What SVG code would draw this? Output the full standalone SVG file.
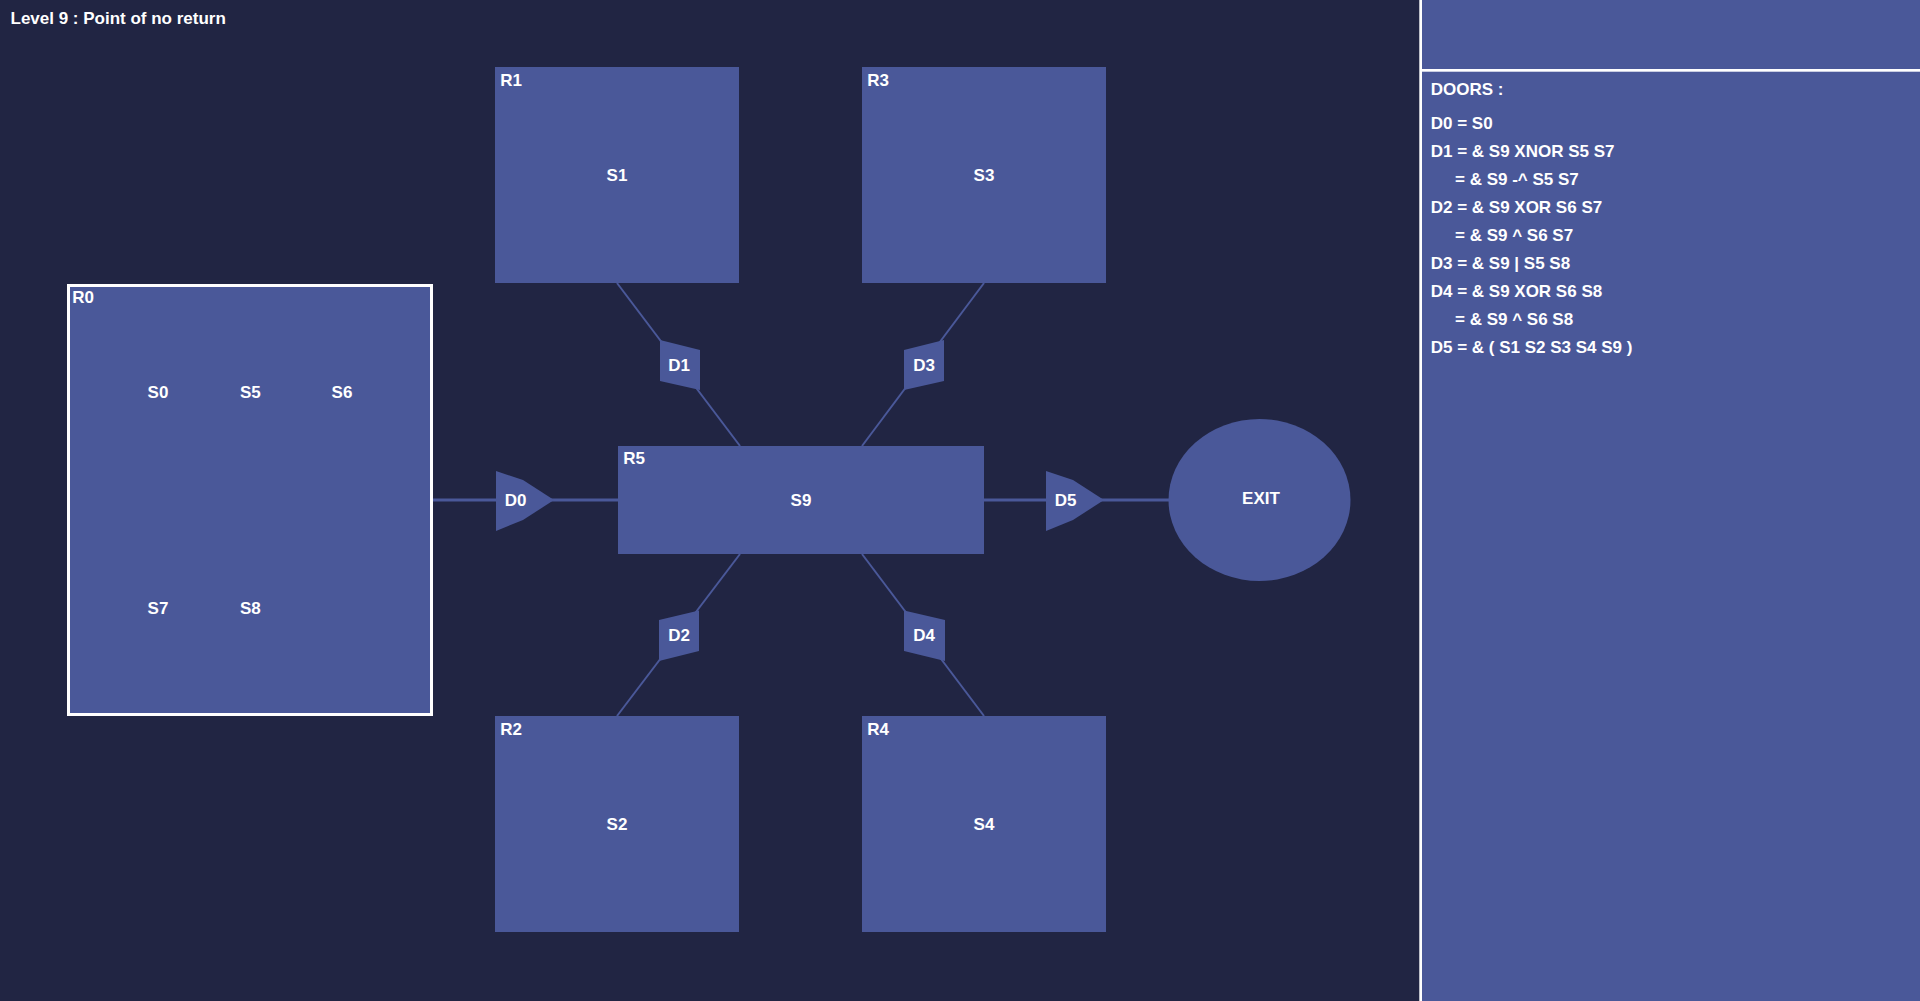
<svg xmlns="http://www.w3.org/2000/svg" width="1920" height="1001" viewBox="0 0 1920 1001">
<style>
.room{fill:#4a5899}
.door{fill:#4a5899}
.t{font-family:"Liberation Sans",Arial,sans-serif;font-weight:bold;font-size:17px;fill:#ffffff}
.c{text-anchor:middle}
.ln{stroke:#4a5899;fill:none}
</style>
<rect x="0" y="0" width="1920" height="1001" fill="#212543"/>
<text class="t" x="10.5" y="24.3">Level 9 : Point of no return</text>

<g id="connectors">
<line class="ln" x1="433" y1="500" x2="618" y2="500" stroke-width="3"/>
<line class="ln" x1="984" y1="500" x2="1169" y2="500" stroke-width="3"/>
<line class="ln" x1="617" y1="283" x2="740" y2="446" stroke-width="2"/>
<line class="ln" x1="984" y1="283" x2="862" y2="446" stroke-width="2"/>
<line class="ln" x1="740" y1="554" x2="617" y2="716" stroke-width="2"/>
<line class="ln" x1="862" y1="554" x2="984" y2="716" stroke-width="2"/>
</g>

<g id="R0">
<rect x="68.5" y="285.5" width="363" height="429" class="room" stroke="#ffffff" stroke-width="3"/>
<text class="t" x="72.3" y="303.3">R0</text>
<text class="t c" x="158" y="398.3">S0</text>
<text class="t c" x="250.3" y="398.3">S5</text>
<text class="t c" x="342" y="398.3">S6</text>
<text class="t c" x="158" y="614.3">S7</text>
<text class="t c" x="250.3" y="614.3">S8</text>
</g>
<g id="R1">
<rect x="495" y="67" width="244" height="216" class="room"/>
<text class="t" x="500.3" y="86">R1</text>
<text class="t c" x="617" y="181">S1</text>
</g>
<g id="R3">
<rect x="862" y="67" width="244" height="216" class="room"/>
<text class="t" x="867.3" y="86">R3</text>
<text class="t c" x="984" y="181">S3</text>
</g>
<g id="R2">
<rect x="495" y="716" width="244" height="216" class="room"/>
<text class="t" x="500.3" y="735">R2</text>
<text class="t c" x="617" y="830">S2</text>
</g>
<g id="R4">
<rect x="862" y="716" width="244" height="216" class="room"/>
<text class="t" x="867.3" y="735">R4</text>
<text class="t c" x="984" y="830">S4</text>
</g>
<g id="R5">
<rect x="618" y="446" width="366" height="108" class="room"/>
<text class="t" x="623.3" y="464.3">R5</text>
<text class="t c" x="801" y="506">S9</text>
</g>
<g id="EXIT">
<ellipse cx="1259.5" cy="500" rx="91" ry="81" class="room"/>
<text class="t c" x="1261" y="504.3">EXIT</text>
</g>

<g id="D0">
<polygon class="door" points="496,471 523,480 554,500 523,520 496,531"/>
<text class="t c" x="515.7" y="506">D0</text>
</g>
<g id="D5">
<polygon class="door" points="1046,471 1073,480 1104,500 1073,520 1046,531"/>
<text class="t c" x="1065.7" y="506">D5</text>
</g>
<g id="D1">
<polygon class="door" points="660,340 700,350 700,390 660,381"/>
<text class="t c" x="679" y="371.3">D1</text>
</g>
<g id="D3">
<polygon class="door" points="904,350 944,340 944,381 904,390"/>
<text class="t c" x="924" y="371.3">D3</text>
</g>
<g id="D2">
<polygon class="door" points="659,620 699,610.5 699,651 659,661"/>
<text class="t c" x="679" y="641">D2</text>
</g>
<g id="D4">
<polygon class="door" points="904,610.5 945,620 945,661 904,651"/>
<text class="t c" x="924" y="641">D4</text>
</g>

<g id="panel">
<rect x="1421" y="0" width="499" height="1001" fill="#4a5899"/>
<rect x="1419.3" y="0" width="2.7" height="1001" fill="#ffffff"/>
<rect x="1422" y="69" width="498" height="2.7" fill="#ffffff"/>
<text class="t" x="1430.7" y="94.7">DOORS :</text>
<text class="t" x="1430.7" y="129.3">D0 = S0</text>
<text class="t" x="1430.7" y="157.3">D1 = &amp; S9 XNOR S5 S7</text>
<text class="t" x="1455" y="185.3">= &amp; S9 -^ S5 S7</text>
<text class="t" x="1430.7" y="213.3">D2 = &amp; S9 XOR S6 S7</text>
<text class="t" x="1455" y="241.3">= &amp; S9 ^ S6 S7</text>
<text class="t" x="1430.7" y="269.3">D3 = &amp; S9 | S5 S8</text>
<text class="t" x="1430.7" y="297.3">D4 = &amp; S9 XOR S6 S8</text>
<text class="t" x="1455" y="325.3">= &amp; S9 ^ S6 S8</text>
<text class="t" x="1430.7" y="353.3">D5 = &amp; ( S1 S2 S3 S4 S9 )</text>
</g>
</svg>
